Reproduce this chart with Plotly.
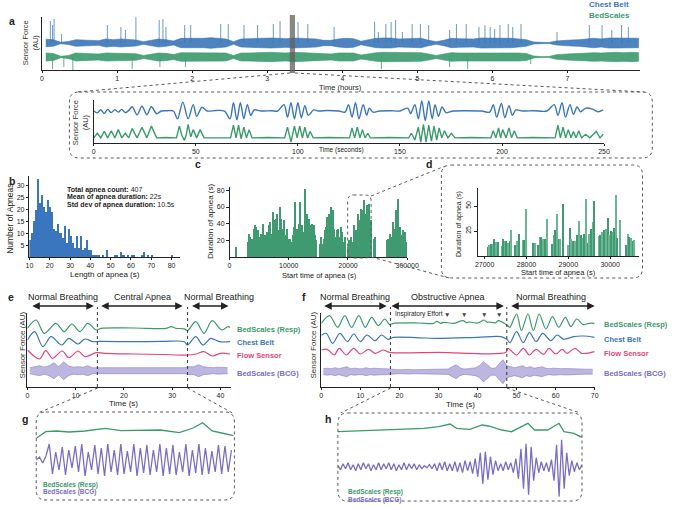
import plotly.graph_objects as go

W, H = 676, 510
FONT = "Liberation Sans, Arial, Helvetica, sans-serif"
INK = "#222222"
BLUE = "#3a76b8"
GREEN = "#3b9a6c"
PINK = "#e2447b"
PURPLE = "#7b6dc3"
HIST_BLUE = "#3a76bd"
BAR_GREEN = "#3f9a71"
BAR_GREEN_LIGHT = "#6ab594"
DOT = "#5a5a5a"


def fx(px):
    return px / W


def fy(py):
    return 1 - py / H


# ---------------- DATA ----------------
# (a) overnight overview: envelope half-height per 0.1 h bin (AU)
overview_bin_h = 0.1
chest_env = [3.7, 3.3, 0.7, 1.5, 3.3, 3.0, 2.0, 2.3, 4.0, 3.3,
             4.0, 3.3, 3.0, 1.3, 2.7, 4.0, 3.3, 2.0, 4.7, 4.7,
             4.0, 4.7, 5.3, 4.3, 4.0, 1.3, 4.0, 4.3, 4.7, 4.7,
             5.0, 4.7, 4.3, 5.0, 4.7, 4.7, 4.0, 2.7, 2.7, 4.0,
             4.7, 4.3, 1.7, 3.3, 4.7, 5.0, 5.0, 4.0, 4.3, 5.0,
             4.7, 2.7, 1.3, 2.7, 4.7, 4.3, 4.0, 4.0, 5.0, 5.0,
             4.7, 5.0, 4.7, 4.0, 3.3, 1.0, 0.4, 0.4, 2.0, 2.7,
             3.0, 3.3, 4.0, 4.7, 4.0, 5.0, 5.0, 4.7, 5.0, 4.7]
bed_env = [4.0, 3.5, 0.7, 1.5, 4.0, 3.7, 2.7, 3.0, 4.0, 3.7,
           4.0, 3.7, 3.3, 1.5, 3.0, 4.0, 3.7, 2.5, 4.3, 4.3,
           4.0, 4.3, 4.7, 4.0, 4.0, 1.5, 4.0, 4.0, 4.3, 4.3,
           4.7, 4.3, 4.0, 4.7, 4.3, 4.3, 4.0, 3.0, 3.0, 4.0,
           4.3, 4.0, 2.0, 3.5, 4.3, 4.7, 4.7, 4.0, 4.0, 4.7,
           4.3, 3.0, 1.5, 3.0, 4.3, 4.0, 4.0, 4.0, 4.7, 4.7,
           4.3, 4.7, 4.3, 4.0, 3.5, 1.0, 0.4, 0.4, 2.3, 3.0,
           3.3, 3.5, 4.0, 4.3, 4.0, 4.7, 4.7, 4.3, 4.7, 4.3]
chest_spike_h = [0.11, 0.14, 0.16, 0.26, 0.87, 1.05, 1.11, 1.25, 1.56, 1.61, 1.65, 1.9,
                 1.98, 2.38, 2.48, 2.69, 2.87, 3.08, 3.17, 3.41, 3.54, 3.89, 4.43, 4.48,
                 4.58, 4.65, 4.71, 4.8, 4.93, 5.04, 5.15, 5.43, 5.52, 5.65, 5.82, 5.9,
                 5.97, 6.03, 6.1, 6.21, 6.27, 6.38, 6.86, 7.29, 7.46, 7.59, 7.72, 7.81]
chest_spike_up = [22, 18, 24, 9, 18, 16, 13, 26, 23, 24, 16, 18,
                  18, 19, 19, 18, 18, 19, 22, 21, 19, 16, 21, 11,
                  19, 21, 23, 11, 19, 19, 18, 13, 19, 19, 16, 18,
                  16, 14, 18, 19, 16, 19, 11, 18, 18, 13, 18, 16]
bed_spike_h = [0.14, 0.29, 0.41, 1.2, 1.57, 1.91, 4.52, 5.43, 5.67, 6.51]
bed_spike_down = [12, 10, 13, 12, 10, 10, 12, 10, 12, 7]
hour_ticks = [0, 1, 2, 3, 4, 5, 6, 7]

# (a) 250 s excerpt
zoom_chest_t = [0, 1.7, 3.4, 5.1, 6.8, 8.5, 10.3, 12, 13.7, 15.4, 17.1, 18.8, 21.2, 23.6, 26, 28.2,
                30.8, 33, 35.9, 39, 41, 43.6, 46.2, 48.7, 50.4, 53, 55.5, 59.8, 64, 66.7, 68.4,
                70.1, 71.8, 73.5, 75.2, 76.9, 78.6, 82, 87.2, 90, 93.2, 94.9, 96.6, 98.3, 100,
                101.7, 103.4, 105.1, 107.7, 110, 114.5, 120, 123.1, 124.8, 126.5, 128.2, 129.9,
                132, 133.7, 135, 136.8, 140, 145.3, 150, 153.8, 155.2, 157.3, 159, 160.7, 162.4,
                164.1, 165.8, 167.2, 168.9, 170.6, 172.6, 176, 182.9, 190, 194, 195.7, 197.4,
                199.7, 201.4, 203.4, 205.1, 206.8, 210, 215.4, 222, 225.6, 227.4, 229.4, 231.1,
                233.3, 235, 236.8, 238.5, 241, 244.4, 247, 249.6]
zoom_chest_v = [0, -1.7, 1.2, -2.3, 1.5, -1.5, 1.3, -1, 1.5, -1.5, 0.5, 4, -3.5, 4.5, -3.5, 4,
                -2.5, 0, 0.3, 0, -7.3, 8.3, -7.3, 6, -5, 3.5, 0, 0.5, 0, -7.3, 7.7,
                -8.3, 7.7, -7.3, 6, -4, 1, 0, 0.3, 0, 6, -5.7, 7.7, -7.3, 7.7,
                -6.3, 5, -4, 1, 0, 0.5, 0, -1, 6, -5.7, 7.7, -7.3,
                6, -4, 2.7, -1, 0, 0.3, 0, 2.7, -2.3, 6, -7.3, 9.3, -9,
                9.3, -7.3, 6, -5, 3.7, -1.5, 0, 0.3, 0, -1, 6, -5.7,
                7, -6.3, 5, -4, 1, 0, 0.3, 0, 6, -4, 7.7, -5.7,
                6, -3, 3.7, -0.7, 2.7, 1.7, -0.7, 1]
zoom_bed_t = [0, 1.7, 3.4, 5.1, 6.8, 8.5, 10.3, 12, 13.7, 15.4, 17.1, 18.8, 21.2, 23.6, 26, 28.2,
              30.8, 35, 40.5, 41.9, 43.2, 44.4, 45.3, 46.2, 47.5, 48.7, 50.4, 52.1, 54, 60, 67,
              68.4, 69.7, 70.9, 72.2, 73.5, 74.8, 76.1, 77.5, 85, 93.5,
              94.9, 96.6, 98.3, 99.6, 100.9, 102.2, 103.4, 104.7, 106, 107.5, 115, 125.3,
              126.5, 127.8, 129.1, 130.4, 131.6, 132.9, 134.2, 135.5, 145, 154.3,
              155.6, 157.3, 159, 160.2, 161.5, 162.8, 164.1, 165.4, 166.7, 168, 169.2, 170.5,
              171.8, 173.5, 175.2, 177, 185, 194.5,
              195.7, 197, 198.3, 199.3, 200.3, 202, 203.4, 204.7, 206, 207.5, 215, 226,
              227.4, 228.6, 229.9, 231.2, 232.5, 233.8, 235, 236.3, 237.6, 239, 241, 243,
              246.2, 248, 249.6]
zoom_bed_v = [0, 4.3, 0, 6, 0, 6.7, 0, 7.7, 0, 4.3, 0, 8.7, 0, 10, 0, 11,
              0, 0.3, 0, 11, 2, -2.3, 3, 12.7, 1, 7.7, 0, 7.7, 0, 0.3, 0,
              12, 0, 12, -1, 10, 0, 7.7, 0, 0.3, 0,
              10, -4, 11, 0, 11, 0, 10, 0, 6, 0, 0.3, 0,
              9.3, 0, 10, 0, 7.7, 0, 4.3, 0, 0.3, 0,
              4.3, -2, 10, -4, 12.7, -4, 12, -3, 11, -2, 9.3, 0,
              6.7, 0, 4.3, 0, 0.3, 0,
              6.7, 0, 9.3, 0, 7.7, 0, 9.3, 0, 6.7, 0, 0.3, 0,
              12, 0, 10, 0, 7.7, 0, 6, 0, 6.7, 0, 3.3, 0,
              6, 0, 3.3]
sec_ticks = [0, 50, 100, 150, 200, 250]

# (b) histogram of apnea lengths (1 s bins starting at 10 s)
hist_bin_start = list(range(10, 83))
hist_count = [7, 10, 15, 20, 33, 23, 26, 21, 19, 24,
              21, 19, 12, 11, 14, 10, 8, 13, 6, 12,
              9, 6, 4, 9, 4, 9, 3, 4, 7, 3,
              3, 1, 1, 1, 1, 0, 1, 0, 3, 0,
              0, 0, 1, 1, 0, 2, 1, 0, 1, 0,
              1, 1, 0, 0, 0, 1, 2, 0, 1, 0,
              1, 0, 0, 0, 0, 0, 0, 0, 0, 0, 1, 0, 0]

# (c) apnea start time vs duration (whole night)
c_start = [1000,
           3000, 3200, 3400, 3600, 3800, 4000, 4200, 4400, 4600, 4800,
           5000, 5200, 5400, 5600, 5800, 6000, 6200, 6400, 6600, 6800,
           7000, 7200, 7400, 7600, 7800, 8000, 8200, 8400, 8600, 8800,
           9000, 9200, 9400, 9600, 9800,
           10200, 10400, 10600, 10800, 11000, 11200, 11400, 11600, 11800,
           12000, 12200, 12400, 12600, 12800, 13000, 13200, 13400, 13600, 13800,
           14000, 14200, 14400, 14600,
           15200, 15400, 15600, 15800, 16000, 16200, 16400, 16600, 16800,
           17000, 17200, 17400, 17600, 17800, 18000, 18200, 18400, 18600, 18800,
           19000, 19200, 19400,
           19900, 20160, 20440, 20710, 20990, 21260, 21540, 21810, 22090, 22360,
           22640, 22910, 23190, 23460, 23740,
           24290, 24560,
           26500, 26750, 27000, 27300, 27600, 27850, 28100, 28400, 28700, 28950,
           29250, 29500, 29800]
c_dur = [12,
         18, 28, 24, 12, 22, 34, 38, 36, 30, 32,
         24, 28, 26, 40, 24, 26, 30, 30, 38, 42,
         28, 54, 44, 40, 46, 52, 32, 60, 46, 34,
         26, 44, 26, 34, 22,
         22, 18, 26, 36, 66, 32, 34, 40, 66,
         32, 38, 30, 82, 44, 52, 36, 46, 38, 40,
         32, 38, 26, 20,
         16, 24, 16, 22, 32, 36, 48, 46, 52,
         60, 42, 56, 34, 24, 32, 34, 18, 24, 36,
         30, 18, 24,
         12, 20, 24, 18, 38, 32, 52, 44, 58, 56,
         68, 52, 62, 64, 44,
         22, 24,
         20, 22, 28, 24, 42, 34, 56, 70, 36, 26,
         32, 30, 18]
c_xticks = [0, 10000, 20000, 30000]
c_xticktext = ["0", "10000", "20000", "300000"]

# (d) zoom of apnea start times 27000-30600 s
d_start = [27064, 27103, 27142, 27181, 27220, 27274, 27321, 27399, 27430, 27469, 27508,
           27547, 27586, 27625, 27726, 27765, 27804, 27898, 27937, 27983, 28155, 28194,
           28271, 28310, 28349, 28388, 28427, 28482, 28606, 28645, 28677, 28723, 28762,
           28801, 28856, 28988, 29027, 29066, 29105, 29144, 29206, 29245, 29284, 29339,
           29378, 29409, 29456, 29495, 29533, 29572, 29611, 29713, 29752, 29798, 29845,
           29892, 29931, 29970, 30009, 30048, 30087, 30126, 30165, 30235, 30375, 30414,
           30453, 30492, 30531, 30570]
d_dur = [9, 11, 12, 12, 17, 14, 14, 10, 17, 15, 15,
         13, 15, 26, 11, 15, 22, 16, 16, 47, 13, 13,
         11, 19, 19, 17, 17, 37, 12, 21, 26, 42, 17,
         17, 52, 11, 28, 17, 15, 15, 21, 35, 21, 18,
         22, 57, 13, 22, 27, 34, 55, 20, 21, 24, 26,
         27, 38, 21, 25, 24, 28, 61, 18, 36, 11, 22,
         19, 18, 15, 16]
d_xticks = [27000, 28000, 29000, 30000]

# (e) central apnea example (turning points, AU)
e_resp_t = [0, 1.8, 3.5, 5.9, 7.6, 9.2, 10.9, 12.5, 14.3, 15.3, 22, 28.8, 29.8, 30.8, 32.5,
            33.2, 34.9, 36.6, 38.3, 40.3, 41.6, 42]
e_resp_v = [0, 8.3, -5, 5, -3.3, 4.3, -3.3, 5, -1.7, 0, 0.3, 0, 1.7, 0, -0.5,
            -2.3, 6.7, -5, 7.7, -1.7, 1.7, 0.7]
e_belt_t = [0, 1.5, 3.2, 4.9, 7.1, 8.6, 10.5, 11.9, 13.6, 15, 22, 28, 32.5, 33.2, 34.9, 36.4,
            38, 39.8, 42]
e_belt_v = [1.7, 10, -5, 5, -3.3, 3.3, -2.3, 2.7, 0, 0.3, 0, 0.3, 0, -3.3, 5, -3.3,
            3.3, 0, 0]
e_flow_t = [0, 2.5, 3.8, 5.2, 7.2, 8.6, 10.5, 11.9, 14.3, 16, 22, 28, 33.2, 34.9, 36.6, 38.3,
            40, 42]
e_flow_v = [4, -5, 3.3, -4.3, 3, -3.7, 3, -2.7, 1.3, 0.7, 0, -0.5, -1, 0, 2.3, -2,
            0.7, 0]
e_bcg_env = [3, 4, 5, 3.5, 5, 8, 4, 9, 5, 3.5, 4, 3.5, 5, 3, 3, 2.7, 2.7, 2.7, 2.7, 2.7,
             2.7, 2.7, 2.7, 2.7, 2.7, 2.7, 2.7, 2.7, 2.7, 2.7, 2.7, 2.7, 3, 4, 4, 6, 4, 3.5,
             3, 3.5, 3, 3]
e_phase_bounds = [14.5, 33.2]
e_xticks = [0, 10, 20, 30, 40]

# (f) obstructive apnea example
f_resp_t = [0, 2.1, 4.2, 6, 7.75, 9.6, 11.25, 12.9, 14.6, 16.25, 17.5, 18.5, 25, 28.75, 29.6,
            30.5, 31.25, 34, 36.25, 37.2, 37.9, 40, 41.7, 42.5, 42.9, 44.5, 45.4, 47.1, 47.9,
            48.3, 50, 51.25, 52.9, 54.3, 55.8, 57.5, 59.2, 60.8, 62.5, 63.9, 65.4, 67.1, 68.5,
            70]
f_resp_v = [0, 7.7, -4, 7.7, -4, 7.7, -4, 6, -2.3, 4.3, -1.3, 0, 0.3, 0, 2,
            0, 1, 0, 2.7, 0.7, 1.3, 0.3, 3.3, 1, 1.3, 0.5, 2.7, -0.7, -3,
            -4, 9.3, -7.3, 9.3, -7.3, 9.3, -5.7, 6.7, -4, 6, -3.3, 4.3, -1.3, 0,
            0]
f_belt_t = [0, 1.25, 2.9, 4.75, 6.7, 8.3, 10, 11.7, 13.75, 15.4, 17.1, 18.5, 25, 30, 40, 46,
            47.5, 48.3, 50, 51.7, 53.3, 55, 56.7, 58.75, 60.4, 62.1, 64.6, 67.1, 70]
f_belt_v = [2, 4, -6, 4, -4.3, 3.3, -4.3, 2.3, -3.3, 2.3, -2, 0, -0.5, -1, 0, 0.7,
            -2, -5.3, 5.7, -5.3, 4.7, -4.3, 4, -3.3, 2.3, -2, 0.7, 1.3, 0]
f_flow_t = [0, 1.5, 3.3, 4.6, 6.4, 8.3, 10, 12.1, 13.75, 15.8, 17.5, 30, 47.3, 47.75, 50, 51.7,
            53.3, 55, 56.9, 58.3, 60, 61.7, 62.9, 65, 66.7, 70]
f_flow_v = [2.3, 3, -2.7, 4, -2.7, 4, -1.7, 3, -1, 2.3, 0, 0, 0, 4, -2.7, 4,
            -2.7, 3, -2, 4, -1.7, 3, -1, 4, -1, 0.7]
f_bcg_env = [3, 3.5, 3, 4, 3, 4, 5, 3, 3.5, 3, 3, 4, 3, 3.5, 3, 3, 3, 2.5,
             2, 2, 2, 2.3, 2.3, 2, 2, 2.3, 2.3, 2, 2.3, 2.5, 2.3, 2.5, 2.7,
             5, 7, 4, 2.7, 3, 3.3, 4, 6, 10, 7, 3.5, 3.5, 8, 12, 6,
             5, 4, 5, 6, 4, 5, 3.5, 4, 5, 3.5, 3, 3.5, 3, 3, 3.3, 3, 2.7, 3, 2.7, 2.5, 2.5, 2.5]
f_phase_bounds = [17.7, 47.5]
f_xticks = [0, 10, 20, 30, 40, 50, 60, 70]

# (g) central apnea detail
g_resp_t = [14.5, 15.4, 16.4, 17.6, 19.1, 21, 22.5, 24.4, 26.2, 28, 29.3, 30.2, 31.1, 32, 33.1]
g_resp_v = [1.7, 8.3, 9, 8, 9, 11.7, 9.3, 9.7, 10, 7.3, 12, 17.3, 9, 7, 4.3]
g_bcg_t0, g_bcg_dt = 14.5, 0.307
g_bcg_v = [0, 3, -3, 4,
           16, -14, 8, -10, 13, -15, 10, -8, 14, -12,
           16, -16, 8, -10, 15, -14, 12, -16, 16, -12,
           10, -15, 16, -14, 9, -12, 16, -16, 12, -13,
           15, -15, 10, -12, 16, -16, 12, -14, 15, -15,
           8, -12, 16, -16, 10, -13, 16, -15, 12, -14,
           9, -12, 15, -14, 14, -12, 10]

# (h) obstructive apnea detail
h_resp_t = [17.7, 24.2, 28.2, 30, 31.4, 32.2, 33.8, 35.3, 36.1, 37.7, 38.9, 40.1, 40.9, 41.7,
            43.3, 44.7, 45.3, 46.5, 47.5]
h_resp_v = [8.3, 10.7, 11.7, 13.3, 16, 11.7, 10.7, 15, 14, 10, 8.3, 13.3, 16.7, 10,
            10, 16.7, 8.3, 6.7, 2.7]
h_bcg_t0, h_bcg_dt = 17.7, 0.3104
h_bcg_v = [1, -3, 3, -2, 4, -3, 2, -4, 3, -3, 4, -2, 3, -4, 2, -3, 4, -3, 3, -2, 4,
           -3, 3, -4, 2, -3, 4, -3, 3, -2, 3, -3, 2, -2, 1, -1, 2, -2, 3, -4, 4, -3, 5, -4, 3, -4,
           5, -5, 4, -6, 6, -4, 5, -7, 8,
           -10, 14, -17, 15, -13, 10, -8, 6,
           -4, 3, -4, 5, -3, 4, -6, 8,
           -12, 18, -22, 23, -28, 20, -14, 9,
           -6, 5, -4, 4, -5, 7,
           -14, 22, -30, 27, -22, 14, -9,
           6, -5, 4, -3, 2]

# ---------------- FIGURE ----------------
traces = []


def line(x, y, color, xa, ya, width=1.3, shape="linear"):
    return go.Scatter(x=x, y=y, mode="lines", xaxis=xa, yaxis=ya, hoverinfo="skip",
                      line=dict(color=color, width=width, shape=shape, smoothing=0.9))


def band(x, center, amps, color, fill, xa, ya, lw=0.6):
    up = [center + a for a in amps]
    lo = [center - a for a in amps]
    return [go.Scatter(x=x, y=up, mode="lines", xaxis=xa, yaxis=ya, hoverinfo="skip",
                       line=dict(color=color, width=lw)),
            go.Scatter(x=x, y=lo, mode="lines", xaxis=xa, yaxis=ya, hoverinfo="skip",
                       line=dict(color=color, width=lw), fill="tonexty", fillcolor=fill)]


def spikes(ts, base, deltas, sign):
    xs, ys = [], []
    for t, d in zip(ts, deltas):
        xs += [t, t, None]
        ys += [base, base + sign * d, None]
    return xs, ys


# --- panel a overview
ov_t = [(i + 0.5) * overview_bin_h for i in range(len(chest_env))]
CHEST_C, BED_C = 27, 13
traces += band(ov_t, CHEST_C, chest_env, BLUE, "rgba(58,118,184,0.9)", "x", "y")
traces += band(ov_t, BED_C, bed_env, GREEN, "rgba(59,154,108,0.9)", "x", "y")
sx, sy = spikes(chest_spike_h, CHEST_C, chest_spike_up, 1)
traces.append(line(sx, sy, "rgba(58,118,184,0.75)", "x", "y", width=1))
sx, sy = spikes(bed_spike_h, BED_C, bed_spike_down, -1)
traces.append(line(sx, sy, "rgba(59,154,108,0.8)", "x", "y", width=1))

# --- panel a excerpt
traces.append(line(zoom_chest_t, [v + 29.9 for v in zoom_chest_v], BLUE, "x2", "y2", 1.4, "spline"))
traces.append(line(zoom_bed_t, [v + 4.8 for v in zoom_bed_v], GREEN, "x2", "y2", 1.4))

# --- panel b histogram
traces.append(go.Bar(x=[b + 0.5 for b in hist_bin_start], y=hist_count, width=1,
                     marker=dict(color=HIST_BLUE, line=dict(width=0)), xaxis="x3", yaxis="y3",
                     hoverinfo="skip"))

# --- panel c bars
traces.append(go.Bar(x=c_start, y=c_dur, width=190,
                     marker=dict(color=BAR_GREEN, line=dict(width=0)), xaxis="x4", yaxis="y4",
                     hoverinfo="skip"))

# --- panel d bars
d_colors = [BAR_GREEN if i % 2 == 0 else BAR_GREEN_LIGHT for i in range(len(d_start))]
traces.append(go.Bar(x=d_start, y=d_dur, width=30,
                     marker=dict(color=d_colors, line=dict(width=0)), xaxis="x5", yaxis="y5",
                     hoverinfo="skip"))

# --- panel e
traces.append(line(e_resp_t, [v + 58.7 for v in e_resp_v], GREEN, "x6", "y6", 1.2, "spline"))
traces.append(line(e_belt_t, [v + 45.3 for v in e_belt_v], BLUE, "x6", "y6", 1.2, "spline"))
traces.append(line(e_flow_t, [v + 33 for v in e_flow_v], PINK, "x6", "y6", 1.2, "spline"))
e_bcg_t = [i + 0.5 for i in range(len(e_bcg_env))]
traces += band(e_bcg_t, 16.3, e_bcg_env, PURPLE, "rgba(123,109,195,0.5)", "x6", "y6", 0.5)

# --- panel f
traces.append(line(f_resp_t, [v + 63.7 for v in f_resp_v], GREEN, "x7", "y7", 1.2, "spline"))
traces.append(line(f_belt_t, [v + 49.7 for v in f_belt_v], BLUE, "x7", "y7", 1.2, "spline"))
traces.append(line(f_flow_t, [v + 34.7 for v in f_flow_v], PINK, "x7", "y7", 1.2, "spline"))
f_bcg_t = [i + 0.5 for i in range(len(f_bcg_env))]
traces += band(f_bcg_t, 15.3, f_bcg_env, PURPLE, "rgba(123,109,195,0.5)", "x7", "y7", 0.5)

# --- panel g
traces.append(line(g_resp_t, [v + 60 for v in g_resp_v], GREEN, "x8", "y8", 1.3))
g_bcg_t = [g_bcg_t0 + i * g_bcg_dt for i in range(len(g_bcg_v))]
traces.append(line(g_bcg_t, [v + 40 for v in g_bcg_v], PURPLE, "x8", "y8", 1.3))

# --- panel h
traces.append(line(h_resp_t, [v + 61 for v in h_resp_v], GREEN, "x9", "y9", 1.3))
h_bcg_t = [h_bcg_t0 + i * h_bcg_dt for i in range(len(h_bcg_v))]
traces.append(line(h_bcg_t, [v + 34.3 for v in h_bcg_v], PURPLE, "x9", "y9", 1.3))

fig = go.Figure(traces)


def xaxis(dom, rng, anchor, tickvals=None, ticktext=None, visible=True):
    d = dict(domain=[fx(dom[0]), fx(dom[1])], range=rng, anchor=anchor, showgrid=False,
             zeroline=False, showline=True, linecolor=INK, linewidth=1, ticks="outside",
             ticklen=2, tickwidth=1, tickcolor=INK, visible=visible, fixedrange=True,
             tickfont=dict(family=FONT, size=7, color=INK))
    if tickvals is not None:
        d["tickvals"] = tickvals
        d["ticktext"] = ticktext if ticktext is not None else [str(v) for v in tickvals]
    return d


def yaxis(top, bottom, rng, anchor, tickvals=None, visible=True, angle=None):
    d = dict(domain=[fy(bottom), fy(top)], range=rng, anchor=anchor, showgrid=False,
             zeroline=False, showline=True, linecolor=INK, linewidth=1, visible=visible,
             fixedrange=True, tickfont=dict(family=FONT, size=7, color=INK))
    if tickvals is None:
        d.update(ticks="", showticklabels=False)
    else:
        d.update(ticks="outside", ticklen=2.5, tickcolor=INK, tickvals=tickvals)
    if angle is not None:
        d["tickangle"] = angle
    return d


fig.update_layout(
    width=W, height=H, margin=dict(l=0, r=0, t=0, b=0),
    paper_bgcolor="white", plot_bgcolor="rgba(0,0,0,0)", showlegend=False, bargap=0,
    font=dict(family=FONT, color=INK),
    xaxis=xaxis((39, 651), [0, 7.96], "y", hour_ticks),
    yaxis=yaxis(17, 70, [0, 53], "x"),
    xaxis2=xaxis((92, 614.6), [0, 250], "y2", sec_ticks),
    yaxis2=yaxis(100, 143, [0, 40.2], "x2"),
    xaxis3=xaxis((26, 180), [10, 84], "y3", [10, 20, 30, 40, 50, 60, 70, 80]),
    yaxis3=yaxis(176, 257, [0, 34.2], "x3", [5, 10, 15, 20, 25, 30]),
    xaxis4=xaxis((231, 413), [0, 30000], "y4", c_xticks, c_xticktext),
    yaxis4=yaxis(187, 257, [0, 84], "x4", [20, 40, 60, 80]),
    xaxis5=xaxis((485, 650), [26830, 30680], "y5", d_xticks),
    yaxis5=yaxis(188, 256, [0, 68], "x5", [25, 50], angle=-90),
    xaxis6=xaxis((24, 232), [0, 42.1], "y6", e_xticks),
    yaxis6=yaxis(313, 387, [0, 74], "x6"),
    xaxis7=xaxis((325, 605), [0, 70], "y7", f_xticks),
    yaxis7=yaxis(313, 387, [0, 74], "x7"),
    xaxis8=xaxis((33, 236), [14.5, 33.2], "y8", visible=False),
    yaxis8=yaxis(412, 500, [0, 88], "x8", visible=False),
    xaxis9=xaxis((342, 592), [17.7, 47.5], "y9", visible=False),
    yaxis9=yaxis(413, 501, [0, 88], "x9", visible=False),
)

# ---------------- SHAPES ----------------
shapes = []


def pline(x0, y0, x1, y1):
    shapes.append(dict(type="line", xref="paper", yref="paper", x0=fx(x0), y0=fy(y0),
                       x1=fx(x1), y1=fy(y1), line=dict(color=DOT, width=1, dash="dot")))


def rbox(x0, y0, x1, y1, r=9):
    P = lambda x, y: f"{fx(x):.5f},{fy(y):.5f}"
    path = (f"M {P(x0 + r, y0)} L {P(x1 - r, y0)} Q {P(x1, y0)} {P(x1, y0 + r)} "
            f"L {P(x1, y1 - r)} Q {P(x1, y1)} {P(x1 - r, y1)} L {P(x0 + r, y1)} "
            f"Q {P(x0, y1)} {P(x0, y1 - r)} L {P(x0, y0 + r)} Q {P(x0, y0)} {P(x0 + r, y0)} Z")
    shapes.append(dict(type="path", xref="paper", yref="paper", path=path,
                       line=dict(color=DOT, width=1, dash="dot")))


# highlight in overview
shapes.append(dict(type="rect", xref="x", yref="paper", x0=3.30, x1=3.37, y0=fy(73), y1=fy(15),
                   fillcolor="rgba(95,95,95,0.75)", line=dict(width=0), layer="above"))
rbox(67, 92, 664, 158, 10)
pline(293, 73, 75, 92)
pline(298, 73, 656, 92)

# c -> d
rbox(352, 195, 376, 258, 6)
rbox(448, 165, 654, 278, 10)
pline(376, 196, 452, 166)
pline(376, 257, 456, 278)

# e / f phase boundaries
for b in e_phase_bounds:
    shapes.append(dict(type="line", xref="x6", yref="paper", x0=b, x1=b, y0=fy(387), y1=fy(307),
                       line=dict(color="#333", width=1, dash="dot")))
for b in f_phase_bounds:
    shapes.append(dict(type="line", xref="x7", yref="paper", x0=b, x1=b, y0=fy(387), y1=fy(307),
                       line=dict(color="#333", width=1, dash="dot")))
rbox(33, 412, 236, 500, 10)
rbox(342, 413, 592, 501, 10)
pline(96, 388, 35, 413)
pline(188, 388, 234, 413)
pline(396, 388, 345, 413)
pline(515, 388, 590, 413)

fig.update_layout(shapes=shapes)

# ---------------- ANNOTATIONS ----------------
ann = []


def txt(x, y, s, size=8, color=INK, bold=False, xanchor="center", angle=0):
    ann.append(dict(x=fx(x), y=fy(y), xref="paper", yref="paper",
                    text=f"<b>{s}</b>" if bold else s, showarrow=False,
                    font=dict(family=FONT, size=size, color=color), xanchor=xanchor,
                    yanchor="middle", textangle=angle))


def darrow(x0, x1, y):
    ann.append(dict(x=fx(x1), y=fy(y), xref="paper", yref="paper", ax=-(x1 - x0), ay=0,
                    axref="pixel", ayref="pixel", showarrow=True, arrowhead=2,
                    startarrowhead=2, arrowside="end+start", arrowsize=1, startarrowsize=1,
                    arrowwidth=1.5, arrowcolor=INK, text=""))


# panel letters
for s, x, y in [("a", 8, 21), ("b", 8, 181), ("c", 199, 164), ("d", 435, 164),
                ("e", 7, 297), ("f", 307, 297), ("g", 21, 419), ("h", 332, 419)]:
    txt(x, y, s, 10.5, bold=True)

# a
txt(642, 5, "Chest Belt", 8, BLUE, True, "right")
txt(643, 15, "BedScales", 8, GREEN, True, "right")
txt(27, 43, "Sensor Force<br>(AU)", 7.5, "#333", angle=-90)
txt(345, 87, "Time (hours)", 7.5)
txt(78, 123, "Sensor Force<br>(AU)", 7.5, "#333", angle=-90)
txt(346, 150, "Time (seconds)", 6.5)

# b
txt(62, 190, "<b>Total apnea count:</b> 407", 7, xanchor="left")
txt(62, 197.5, "<b>Mean of apnea duration:</b> 22s", 7, xanchor="left")
txt(62, 205, "<b>Std dev of apnea duration:</b> 10.5s", 7, xanchor="left")
txt(6, 219, "Number of Apneas", 8.5, angle=-90)
txt(103, 274, "Length of apnea (s)", 8)

# c / d
txt(211, 222, "Duration of apnea (s)", 8, angle=-90)
txt(323, 275, "Start time of apnea (s)", 7.5)
txt(466, 224, "Duration of apnea (s)", 7, angle=-90)
txt(568, 272, "Start time of apnea (s)", 7.5)

# e
txt(60, 297, "Normal Breathing", 9)
txt(142, 297, "Central Apnea", 9)
txt(220, 297, "Normal Breathing", 9)
darrow(29, 92, 306)
darrow(100, 183, 306)
darrow(192, 230, 306)
txt(237, 329, "BedScales (Resp)", 7.5, GREEN, True, "left")
txt(237, 342, "Chest Belt", 7.5, BLUE, True, "left")
txt(237, 355, "Flow Sensor", 7.5, PINK, True, "left")
txt(237, 373, "BedScales (BCG)", 7.5, PURPLE, True, "left")
txt(18, 345, "Sensor Force (AU)", 8, "#333", angle=-90)
txt(122, 403, "Time (s)", 8)

# f
txt(359, 297, "Normal Breathing", 9)
txt(455, 297, "Obstructive Apnea", 9)
txt(560, 297, "Normal Breathing", 9)
darrow(328, 392, 306)
darrow(398, 512, 306)
darrow(520, 605, 306)
txt(398, 314, "Inspiratory Effort", 6.5, xanchor="left")
for x in [454, 471, 492, 507]:
    txt(x, 314, "▼", 6.5, "#444")
txt(613, 324, "BedScales (Resp)", 7.5, GREEN, True, "left")
txt(613, 339, "Chest Belt", 7.5, BLUE, True, "left")
txt(613, 353, "Flow Sensor", 7.5, PINK, True, "left")
txt(613, 373, "BedScales (BCG)", 7.5, PURPLE, True, "left")
txt(317, 345, "Sensor Force (AU)", 8, "#333", angle=-90)
txt(468, 404, "Time (s)", 8)

# g / h
txt(38, 485, "BedScales (Resp)", 6.5, GREEN, True, "left")
txt(38, 492, "BedScales (BCG)", 6.5, PURPLE, True, "left")
txt(350, 492, "BedScales (Resp)", 6.5, GREEN, True, "left")
txt(350, 500, "BedScales (BCG)", 6.5, PURPLE, True, "left")

fig.update_layout(annotations=ann)
fig.write_html("out.html", config={"displayModeBar": False},
               post_script="document.body.style.margin='0';document.body.style.overflow='hidden';")
